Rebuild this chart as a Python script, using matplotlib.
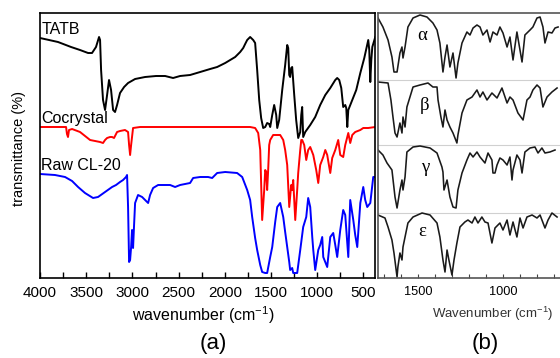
import matplotlib
matplotlib.use("Agg")
import matplotlib.pyplot as plt
from matplotlib.ticker import MultipleLocator

plt.rcParams['font.family'] = ['Liberation Sans', 'DejaVu Sans']
plt.rcParams['mathtext.fontset'] = 'custom'
plt.rcParams['mathtext.rm'] = 'Liberation Sans'
plt.rcParams['mathtext.it'] = 'Liberation Sans:italic'

# ---------------- panel (a) data: wavenumber (cm-1), transmittance (arb. offset units)
tatb_w = [4000, 3805, 3664, 3567, 3480, 3437, 3394, 3361, 3350, 3339, 3318, 3296, 3274, 3253, 3231,
          3209, 3188, 3166, 3134, 3090, 3047, 2971, 2863, 2744, 2646, 2560, 2484, 2376, 2267, 2159,
          2083, 1996, 1942, 1888, 1834, 1801, 1780, 1758, 1726, 1693, 1672, 1650, 1628, 1607, 1596,
          1585, 1563, 1542, 1520, 1509, 1487, 1466, 1444, 1433, 1412, 1379, 1347, 1325, 1314, 1303,
          1293, 1282, 1271, 1249, 1228, 1206, 1184, 1173, 1163, 1152, 1130, 1076, 1022, 968, 913,
          859, 805, 784, 762, 740, 719, 697, 686, 675, 664, 621, 578, 534, 491, 448, 437, 426, 415,
          404, 372]
tatb_t = [240, 236, 231, 228, 225, 225, 231, 241, 238, 208, 178, 168, 183, 198, 188,
          168, 166, 173, 185, 191, 195, 199, 201, 202, 202, 200, 202, 203, 206, 209,
          211, 215, 218, 221, 226, 230, 234, 238, 241, 238, 235, 208, 178, 160, 155,
          150, 151, 155, 154, 151, 163, 173, 163, 150, 158, 188, 213, 233, 230, 203,
          201, 210, 211, 183, 158, 140, 146, 163, 171, 141, 146, 153, 161, 173, 183,
          190, 198, 200, 198, 190, 171, 173, 170, 151, 168, 178, 188, 205, 220, 238, 228, 196, 218,
          231, 241]

cocrystal_w = [4000, 3783, 3718, 3708, 3697, 3686, 3653, 3567, 3458, 3350, 3318, 3296, 3274, 3242,
               3220, 3199, 3166, 3134, 3080, 3047, 3036, 3025, 3014, 2993, 2917, 2267, 1726, 1672,
               1639, 1617, 1596, 1574, 1563, 1552, 1542, 1531, 1520, 1509, 1477, 1401, 1368, 1347,
               1325, 1303, 1282, 1271, 1260, 1238, 1217, 1206, 1184, 1173, 1163, 1141, 1119, 1098,
               1076, 1043, 1011, 989, 968, 935, 913, 892, 859, 838, 805, 773, 751, 719, 697, 664,
               643, 621, 589, 534, 502, 448, 372]
cocrystal_t = [151, 151, 151, 144, 141, 148, 149, 146, 138, 136, 135, 138, 140, 141,
               141, 140, 146, 147, 148, 146, 133, 123, 133, 150, 151, 151, 151, 150,
               145, 128, 58, 88, 108, 106, 88, 108, 133, 138, 143, 143, 138, 128,
               113, 71, 93, 88, 98, 58, 88, 105, 128, 138, 138, 133, 118, 128,
               131, 123, 108, 95, 113, 121, 128, 123, 105, 120, 128, 138, 123, 121, 133, 145,
               135, 143, 146, 148, 150, 150, 151]

cl20_w = [4000, 3838, 3729, 3653, 3588, 3513, 3426, 3372, 3296, 3220, 3177, 3134, 3101, 3069, 3058,
          3047, 3036, 3025, 3014, 3004, 2993, 2982, 2971, 2939, 2895, 2852, 2830, 2809, 2776, 2722,
          2646, 2592, 2538, 2484, 2376, 2343, 2267, 2181, 2137, 2083, 1996, 1867, 1812, 1758, 1726,
          1704, 1672, 1650, 1617, 1596, 1563, 1542, 1509, 1487, 1455, 1433, 1401, 1368, 1347, 1325,
          1303, 1293, 1271, 1260, 1217, 1184, 1152, 1119, 1098, 1076, 1054, 1043, 1022, 989, 968,
          946, 935, 892, 859, 827, 805, 784, 751, 719, 697, 664, 643, 610, 589, 567, 534, 502, 481,
          459, 426, 394, 372]
cl20_t = [104, 103, 101, 97, 91, 85, 80, 81, 86, 91, 93, 96, 98, 101, 103,
          71, 16, 18, 31, 48, 30, 53, 75, 83, 81, 77, 75, 83, 90, 93,
          93, 93, 91, 93, 95, 100, 101, 101, 100, 105, 106, 105, 101, 88, 78,
          61, 40, 28, 13, 6, 5, 5, 21, 31, 56, 71, 75, 61, 46, 31,
          16, 8, 10, 5, 5, 28, 51, 61, 80, 71, 41, 28, 8, 28, 33,
          41, 21, 11, 41, 45, 33, 21, 48, 68, 63, 21, 78, 58, 43, 31, 75, 91, 78,
          71, 75, 101, 101]

# ---------------- panel (b) data: four CL-20 polymorphs (offset spectra)
alpha_w = [1735, 1706, 1676, 1653, 1641, 1623, 1606, 1594, 1588, 1576, 1559, 1529, 1488, 1447, 1412,
           1388, 1371, 1353, 1341, 1329, 1312, 1294, 1276, 1265, 1241, 1212, 1194, 1176, 1153, 1135,
           1118, 1094, 1076, 1059, 1035, 1018, 1000, 976, 959, 941, 918, 888, 871, 841, 824, 800,
           782, 765, 753, 735, 712, 694, 676]
alpha_t = [260, 251, 238, 221, 206, 206, 225, 231, 220, 231, 251, 260, 263, 261, 255,
           248, 235, 206, 221, 233, 211, 225, 200, 215, 235, 246, 243, 250, 253, 251,
           243, 248, 236, 246, 243, 251, 245, 231, 241, 218, 246, 216, 243, 248, 251, 260,
           261, 251, 235, 246, 245, 250, 251]

beta_w = [1735, 1676, 1659, 1647, 1635, 1623, 1606, 1594, 1588, 1576, 1565, 1547, 1529, 1488, 1441,
          1412, 1388, 1382, 1365, 1353, 1341, 1329, 1312, 1294, 1271, 1265, 1241, 1212, 1182, 1153,
          1135, 1118, 1094, 1065, 1035, 1006, 976, 959, 941, 912, 882, 859, 841, 824, 800, 782,
          765, 741, 712, 682]
beta_t = [196, 195, 178, 161, 145, 141, 155, 145, 161, 151, 171, 181, 191, 193, 195,
          191, 191, 178, 161, 151, 168, 158, 151, 145, 135, 143, 165, 178, 181, 188,
          181, 186, 178, 185, 180, 190, 175, 181, 178, 165, 158, 178, 181, 188, 193, 190,
          171, 181, 186, 190]

gamma_w = [1735, 1706, 1682, 1653, 1635, 1623, 1606, 1594, 1588, 1576, 1565, 1529, 1488, 1429, 1388,
           1359, 1353, 1347, 1329, 1312, 1294, 1276, 1265, 1241, 1212, 1194, 1176, 1153, 1135, 1106,
           1088, 1065, 1059, 1047, 1035, 1018, 1000, 976, 959, 947, 941, 918, 900, 888, 871, 841,
           812, 794, 771, 753, 724, 694]
gamma_t = [128, 123, 115, 108, 81, 70, 88, 98, 88, 101, 126, 131, 132, 130, 125,
           111, 106, 88, 98, 81, 71, 70, 88, 105, 118, 125, 121, 126, 121, 115,
           125, 118, 105, 105, 113, 120, 118, 113, 121, 98, 108, 123, 118, 105, 126, 130,
           131, 125, 130, 125, 126, 128]

eps_w = [1735, 1694, 1676, 1653, 1641, 1623, 1618, 1606, 1594, 1588, 1576, 1559, 1529, 1476, 1429,
         1388, 1371, 1353, 1341, 1329, 1318, 1300, 1288, 1271, 1253, 1224, 1206, 1182, 1165, 1147,
         1124, 1106, 1088, 1065, 1047, 1018, 1000, 976, 959, 941, 918, 900, 882, 859, 829, 800,
         782, 753, 735, 712, 682]
eps_t = [63, 60, 51, 38, 25, 1, 11, 25, 18, 31, 41, 55, 61, 65, 63,
         55, 41, 18, 6, 28, 18, 3, 18, 35, 51, 56, 58, 55, 61, 55,
         61, 56, 55, 35, 50, 55, 48, 58, 43, 56, 41, 60, 50, 61, 63, 60,
         63, 50, 58, 65, 61]

a_labels = ["TATB", "Cocrystal", "Raw CL-20"]
b_labels = ["α", "β", "γ", "ε"]
b_separators = [198, 133, 65]

W, H = 560, 358
fig = plt.figure(figsize=(W / 100, H / 100), dpi=100)

def box(l, t, r, b):
    return [l / W, (H - b) / H, (r - l) / W, (b - t) / H]

# ---------- panel (a)
ax = fig.add_axes(box(40, 13, 375, 278))
ax.plot(tatb_w, tatb_t, color='black', lw=1.4)
ax.plot(cocrystal_w, cocrystal_t, color='#ff0000', lw=1.4)
ax.plot(cl20_w, cl20_t, color='#0000ff', lw=1.4)
ax.set_xlim(4000, 375)
ax.set_ylim(0, 265)
ax.set_yticks([])
ax.xaxis.set_major_locator(MultipleLocator(500))
ax.xaxis.set_minor_locator(MultipleLocator(250))
ax.tick_params(axis='x', which='both', direction='in', top=False, labelsize=11, pad=6,
               length=4, width=1)
for s in ax.spines.values():
    s.set_linewidth(1.2)
ax.text(3985, 248, a_labels[0], fontsize=11.5, va='center', ha='left')
ax.text(3985, 160, a_labels[1], fontsize=11.5, va='center', ha='left')
ax.text(3985, 113, a_labels[2], fontsize=11.5, va='center', ha='left')

fig.text(19 / W, 1 - 148 / H, "transmittance (%)", rotation=90, fontsize=10.5,
         ha='center', va='center')
fig.text(203 / W, 1 - 315 / H, "wavenumber (cm$^{-1}$)", fontsize=11.5, ha='center', va='center')
fig.text(213 / W, 1 - 344 / H, "(a)", fontsize=16, ha='center', va='center')

# ---------- panel (b)
bx = fig.add_axes(box(378, 13, 571, 278))
for y in b_separators:
    bx.axhline(y, color='#d0d0d0', lw=0.8)
for w_, t_ in [(alpha_w, alpha_t), (beta_w, beta_t), (gamma_w, gamma_t), (eps_w, eps_t)]:
    bx.plot(w_, t_, color='#1a1a1a', lw=1.15)
bx.set_xlim(1735, 600)
bx.set_ylim(0, 265)
bx.set_yticks([])
bx.xaxis.set_major_locator(MultipleLocator(500))
bx.xaxis.set_minor_locator(MultipleLocator(100))
bx.tick_params(axis='x', which='both', direction='in', labelsize=9.2, pad=6,
               length=3, width=0.8, color='#444444')
for s in bx.spines.values():
    s.set_linewidth(1.2)
    s.set_color('#555555')
for (lx, ly), lab in zip([(1476, 243), (1459, 173), (1459, 111), (1476, 46)], b_labels):
    bx.text(lx, ly, lab, fontsize=13.5, family=['Liberation Serif', 'DejaVu Serif'],
            ha='center', va='center')

fig.text(493 / W, 1 - 314 / H, "Wavenumber (cm$^{-1}$)", fontsize=9.5, ha='center',
         va='center', color='#333333')
fig.text(485 / W, 1 - 344 / H, "(b)", fontsize=16, ha='center', va='center')

fig.savefig("out.png", dpi=100)
